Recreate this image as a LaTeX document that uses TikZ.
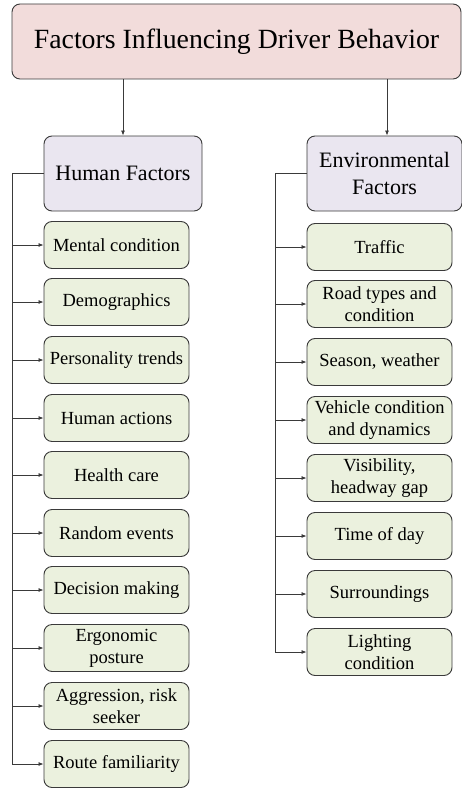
\documentclass[tikz,border=0pt]{standalone}
\usepackage{fontspec}
\setmainfont{Liberation Serif}
\usetikzlibrary{arrows.meta}
\definecolor{titlefill}{HTML}{F2DCDB}
\definecolor{groupfill}{HTML}{EAE6F0}
\definecolor{leaffill}{HTML}{EBF1DE}
\definecolor{edgegray}{HTML}{3A3A3A}
\tikzset{
    box/.style={draw=edgegray, line width=0.9pt, rounded corners=8pt, inner sep=0pt, align=center},
    titlebox/.style={box, fill=titlefill, minimum width=449pt, minimum height=75pt, font=\fontsize{27.8}{32}\selectfont},
    groupbox/.style={box, fill=groupfill, minimum height=75pt, font=\fontsize{22}{27}\selectfont},
    leafbox/.style={box, fill=leaffill, minimum width=145pt, minimum height=47pt, font=\fontsize{18.5}{22}\selectfont},
    link/.style={draw=edgegray, line width=0.8pt},
    arr/.style={link, -{Latex[length=5pt,width=4pt]}}
}
\begin{document}
\begin{tikzpicture}[x=1pt, y=-1pt]
    \useasboundingbox (0,0) rectangle (462,789);
    \node[titlebox] (top) at (236.5,41.5) {Factors Influencing Driver Behavior};
    \node[groupbox, minimum width=158pt] (hum) at (123,173.5) {Human Factors};
    \node[groupbox, minimum width=155pt] (env) at (384.5,173.5) {Environmental\\Factors};
    % human side
    \node[leafbox] (h1) at (116.5,245) {Mental condition};
    \node[leafbox] (h2) at (116.5,302) {Demographics};
    \node[leafbox] (h3) at (116.5,360) {Personality trends};
    \node[leafbox] (h4) at (116.5,418) {Human actions};
    \node[leafbox] (h5) at (116.5,475) {Health care};
    \node[leafbox] (h6) at (116.5,533) {Random events};
    \node[leafbox] (h7) at (116.5,590) {Decision making};
    \node[leafbox] (h8) at (116.5,648) {Ergonomic\\posture};
    \node[leafbox] (h9) at (116.5,706) {Aggression, risk\\seeker};
    \node[leafbox] (h10) at (116.5,764) {Route familiarity};
    % environment side
    \node[leafbox] (e1) at (379.5,247) {Traffic};
    \node[leafbox] (e2) at (379.5,304) {Road types and\\condition};
    \node[leafbox] (e3) at (379.5,362) {Season, weather};
    \node[leafbox] (e4) at (379.5,420) {Vehicle condition\\and dynamics};
    \node[leafbox] (e5) at (379.5,478) {Visibility,\\headway gap};
    \node[leafbox] (e6) at (379.5,536) {Time of day};
    \node[leafbox] (e7) at (379.5,594) {Surroundings};
    \node[leafbox] (e8) at (379.5,652) {Lighting\\condition};
    % links
    \draw[arr] (hum.north |- top.south) -- (hum.north);
    \draw[arr] ([xshift=2.5pt]env.north |- top.south) -- ([xshift=2.5pt]env.north);
    \coordinate (hl) at (12,173.5);
    \coordinate (el) at (275,173.5);
    \draw[link] (hum.west) -- (hl) -- (hl |- h10.west);
    \draw[link] (env.west) -- (el) -- (el |- e8.west);
    \foreach \i in {1,...,10} \draw[arr] (hl |- h\i.west) -- (h\i.west);
    \foreach \i in {1,...,8} \draw[arr] (el |- e\i.west) -- (e\i.west);
\end{tikzpicture}
\end{document}
